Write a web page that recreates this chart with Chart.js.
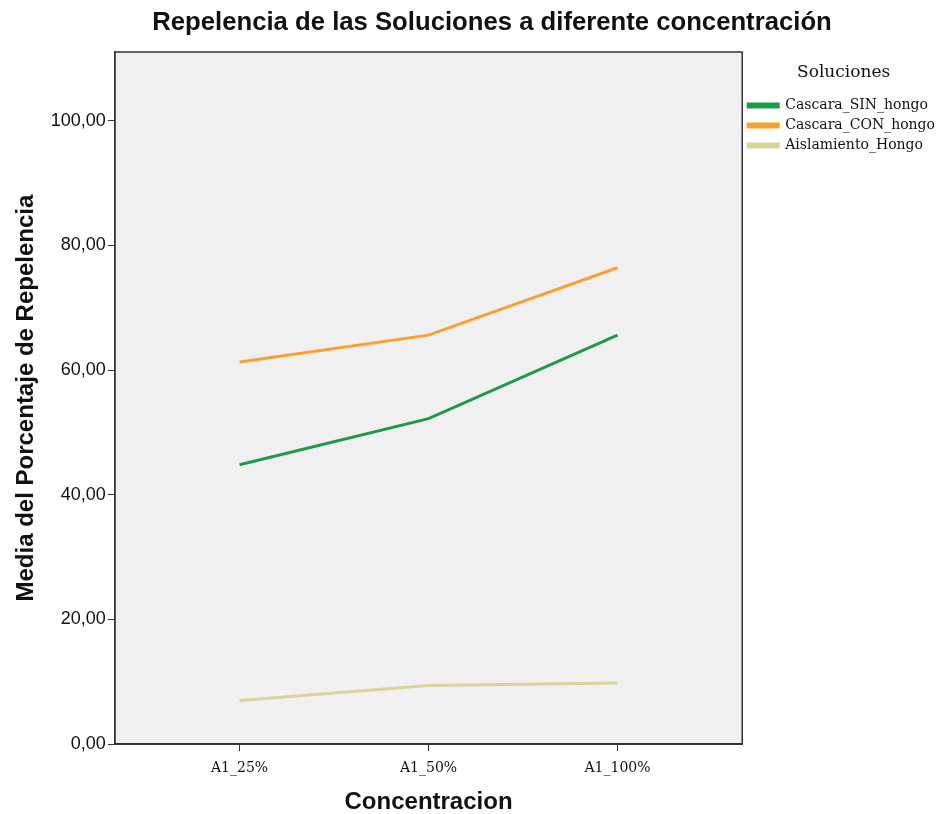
<!DOCTYPE html>
<html>
<head>
<meta charset="utf-8">
<title>Repelencia de las Soluciones</title>
<script src="https://cdn.jsdelivr.net/npm/chart.js@4"></script>
<style>
  html, body { margin: 0; padding: 0; background: #fff; }
  #wrap { width: 947px; height: 814px; }
</style>
</head>
<body>
<div id="wrap"><canvas id="chart" width="947" height="814"></canvas></div>
<script>
// =========================
//  DATA
// =========================

const CATEGORIES = ["A1_25%", "A1_50%", "A1_100%"];
const SERIES_NAMES = ["Cascara_SIN_hongo", "Cascara_CON_hongo", "Aislamiento_Hongo"];
const SIN_HONGO = [44.8, 52.2, 65.6];
const CON_HONGO = [61.3, 65.6, 76.4];
const AISLAMIENTO = [7.0, 9.4, 9.8];
const Y_TICKS = [0, 20, 40, 60, 80, 100];

const COLORS = ["#1e9a4b", "#f9a12e", "#d9d49b"];

const SANS = "'Liberation Sans', Arial, sans-serif";
const SERIF = "'DejaVu Serif', serif";

// =========================
//  HELPERS
// =========================

function toPoints(vals) {
  return vals.map((v, i) => ({ x: i, y: v }));
}

function fmtComma(v) {
  return v.toFixed(2).replace(".", ",");
}

// plot background + frame + title
const plotFrame = {
  id: "plotFrame",
  beforeDraw(chart) {
    const { ctx, chartArea: a } = chart;
    ctx.save();
    ctx.fillStyle = "#f0f0f0";
    ctx.fillRect(a.left, a.top, a.right - a.left, a.bottom - a.top);
    ctx.restore();
  },
  afterDraw(chart) {
    const { ctx, chartArea: a } = chart;
    ctx.save();
    ctx.strokeStyle = "#333";
    ctx.lineWidth = 1.5;
    ctx.strokeRect(a.left, a.top, a.right - a.left, a.bottom - a.top);
    ctx.fillStyle = "#111";
    ctx.font = "bold 25.7px " + SANS;
    ctx.textAlign = "center";
    ctx.textBaseline = "middle";
    ctx.fillText("Repelencia de las Soluciones a diferente concentración", 492, 23);
    ctx.restore();
  }
};

// =========================
//  CHART
// =========================

const datasets = [SIN_HONGO, CON_HONGO, AISLAMIENTO].map((vals, i) => ({
  label: SERIES_NAMES[i],
  data: toPoints(vals),
  borderColor: COLORS[i],
  backgroundColor: COLORS[i],
  borderWidth: 3,
  pointRadius: 0,
  tension: 0
}));

new Chart(document.getElementById("chart"), {
  type: "line",
  data: { datasets },
  options: {
    responsive: false,
    animation: false,
    layout: { padding: { top: 52, right: 2, bottom: 0, left: 12 } },
    plugins: {
      tooltip: { enabled: false },
      legend: {
        position: "right",
        align: "start",
        title: {
          display: true,
          text: "Soluciones",
          color: "#111",
          font: { family: SERIF, size: 17 },
          padding: { top: 12, bottom: 8 }
        },
        labels: {
          color: "#111",
          boxWidth: 30,
          boxHeight: 3,
          padding: 6,
          font: { family: SERIF, size: 14 }
        }
      }
    },
    scales: {
      x: {
        type: "linear",
        min: -0.66,
        max: 2.66,
        afterBuildTicks: axis => { axis.ticks = CATEGORIES.map((c, i) => ({ value: i })); },
        ticks: {
          color: "#111",
          padding: 9,
          font: { family: SERIF, size: 14 },
          callback: v => CATEGORIES[v]
        },
        grid: { drawOnChartArea: false, tickLength: 7, color: "#333" },
        border: { color: "#333", width: 1.5 },
        title: {
          display: true,
          text: "Concentracion",
          color: "#111",
          font: { family: SANS, size: 24, weight: "bold", lineHeight: 1 },
          padding: { top: 4, bottom: 0 }
        }
      },
      y: {
        min: 0,
        max: 111,
        afterBuildTicks: axis => { axis.ticks = Y_TICKS.map(v => ({ value: v })); },
        ticks: {
          color: "#111",
          padding: 2,
          font: { family: SANS, size: 18 },
          callback: v => fmtComma(v)
        },
        grid: { drawOnChartArea: false, tickLength: 7, color: "#333" },
        border: { color: "#333", width: 1.5 },
        title: {
          display: true,
          text: "Media del Porcentaje de Repelencia",
          color: "#111",
          font: { family: SANS, size: 24, weight: "bold" },
          padding: { top: 0, bottom: 8 }
        }
      }
    }
  },
  plugins: [plotFrame]
});
</script>
</body>
</html>
